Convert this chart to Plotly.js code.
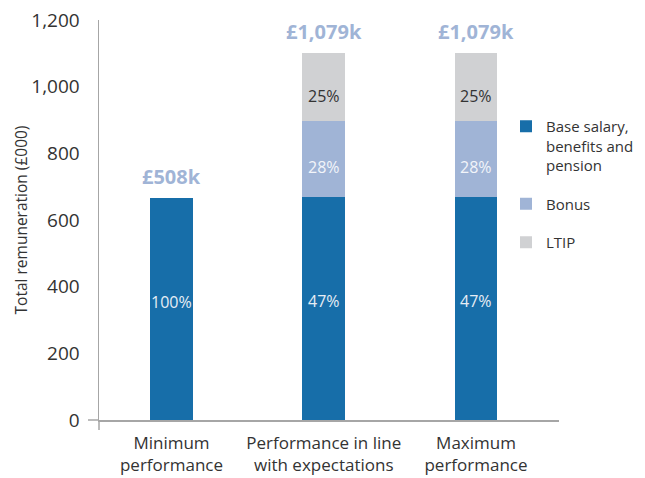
<!DOCTYPE html>
<html><head><meta charset="utf-8">
<script src="https://cdn.plot.ly/plotly-3.0.1.min.js"></script>
<style>html,body{margin:0;padding:0;background:#fff}#chart{width:645px;height:478px}</style>
</head><body><div id="chart"></div>
<script>
const categories = ["Minimum<br>performance", "Performance in line<br>with expectations", "Maximum<br>performance"];
const baseSalary = [667, 670, 670];
const bonus = [0, 228, 228];
const ltip = [0, 204, 204];
const basePct = ["100%", "47%", "47%"];
const bonusPct = ["", "28%", "28%"];
const ltipPct = ["", "25%", "25%"];
const totalLabels = ["£508k", "£1,079k", "£1,079k"];
const yTicks = [0, 200, 400, 600, 800, 1000, 1200];
const yTickText = ["0", "200", "400", "600", "800", "1,000", "1,200"];

const FONT = "Open Sans, Segoe UI, sans-serif";
const W = 0.282;
const common = {type: "bar", x: categories, width: W, hoverinfo: "skip"};

const traces = [
  Object.assign({}, common, {name: "Base salary,<br>benefits and<br>pension", y: baseSalary,
    marker: {color: "#176ea9", line: {width: 0}}, legendgroup: "a"}),
  Object.assign({}, common, {name: "Bonus", y: bonus,
    marker: {color: "#a0b4d6", line: {width: 0}}, legendgroup: "b"}),
  Object.assign({}, common, {name: "LTIP", y: ltip,
    marker: {color: "#d0d1d3", line: {width: 0}}, legendgroup: "c"})
];

const annotations = [];
categories.forEach((c, i) => {
  const b0 = baseSalary[i], b1 = b0 + bonus[i], b2 = b1 + ltip[i];
  annotations.push({x: c, y: b2, xref: "x", yref: "y", text: "<b>" + totalLabels[i] + "</b>", showarrow: false,
    yanchor: "bottom", yshift: 6, font: {family: FONT, size: 20, color: "#a0b4d6"}});
  annotations.push({x: c, y: b0 / 2, xref: "x", yref: "y", text: basePct[i], showarrow: false, yshift: 7,
    font: {family: FONT, size: 16, color: "#e6edf5"}});
  if (bonusPct[i]) annotations.push({x: c, y: (b0 + b1) / 2, xref: "x", yref: "y", text: bonusPct[i], showarrow: false,
    yshift: -8, font: {family: FONT, size: 16, color: "#f2f5fa"}});
  if (ltipPct[i]) annotations.push({x: c, y: (b1 + b2) / 2, xref: "x", yref: "y", text: ltipPct[i], showarrow: false,
    yshift: -9, font: {family: FONT, size: 16, color: "#333333"}});
});

const layout = {
  width: 645, height: 478,
  margin: {l: 99, r: 86, t: 20, b: 58, autoexpand: false},
  paper_bgcolor: "#fff", plot_bgcolor: "#fff",
  barmode: "stack",
  font: {family: FONT, color: "#333"},
  xaxis: {range: [-0.476, 2.545], showgrid: false, zeroline: false, showline: true, linecolor: "#a6a6a6", linewidth: 1.5,
    ticks: "", tickfont: {size: 17, color: "#333"}, ticklabelstandoff: 7, fixedrange: true},
  yaxis: {range: [0, 1200], tickvals: yTicks, ticktext: yTickText, showgrid: false, zeroline: false,
    showline: true, linecolor: "#a6a6a6", linewidth: 1.5, ticks: "", ticklabelstandoff: 14,
    tickfont: {size: 19, color: "#333"},
    title: {text: "Total remuneration (£000)", font: {size: 15.5, color: "#333"}, standoff: 0}},
  showlegend: true,
  legend: {xref: "container", x: 506 / 645, xanchor: "left", yref: "container", y: 1 - 110 / 478, yanchor: "top",
    traceorder: "grouped", valign: "top", borderwidth: 0,
    font: {size: 15, color: "#333", family: FONT}, tracegroupgap: 16, itemwidth: 30, bgcolor: "rgba(0,0,0,0)"},
  annotations: annotations,
  shapes: [
    {type: "line", xref: "paper", yref: "paper", x0: 0, x1: 0, y0: 0, y1: -0.025, line: {color: "#a6a6a6", width: 1.5}},
    {type: "line", xref: "paper", yref: "paper", x0: -0.024, x1: 0, y0: 0, y1: 0, line: {color: "#a6a6a6", width: 1.5}}
  ]
};

Plotly.newPlot("chart", traces, layout, {displayModeBar: false, staticPlot: true});
</script></body></html>
